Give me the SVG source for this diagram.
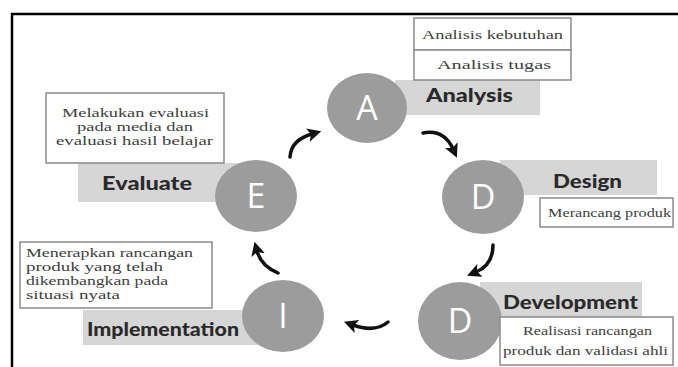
<svg xmlns="http://www.w3.org/2000/svg" width="678" height="367" viewBox="0 0 678 367">
<defs>
<style>
.band{fill:#d6d6d6}
.circ{fill:#9c9c9c}
.letter{font-family:"Open Sans","Liberation Sans",sans-serif;font-size:34px;fill:#ffffff;text-anchor:middle}
.title{font-family:Lato,"Liberation Sans",sans-serif;font-weight:900;font-size:18px;fill:#2a2a2a}
.box{fill:#ffffff;stroke:#8a8a8a;stroke-width:1.5}
.bt{font-family:"Liberation Serif",serif;font-size:13.5px;fill:#404040}
.sm{font-size:12px}
.arr{fill:none;stroke:#111111;stroke-width:3.5;stroke-linecap:round}
</style>
<marker id="ah" markerUnits="userSpaceOnUse" markerWidth="15" markerHeight="15" refX="4" refY="6.5" orient="auto" viewBox="0 0 14 13">
<path d="M0,0 L13,6.5 L0,13 L3,6.5 Z" fill="#111111"/>
</marker>
</defs>
<rect x="0" y="0" width="678" height="367" fill="#ffffff"/>
<path d="M12,367 V14 H678" fill="none" stroke="#000000" stroke-width="2.5"/>

<g id="node-analysis">
<rect class="band" x="395" y="80" width="145" height="35"/>
<ellipse class="circ" cx="367" cy="108" rx="40" ry="35"/>
<text class="letter" x="367" y="120">A</text>
<text class="title" x="426" y="102" textLength="87" lengthAdjust="spacingAndGlyphs">Analysis</text>
<rect class="box" x="414" y="18" width="157" height="32"/>
<rect class="box" x="414" y="50" width="157" height="30"/>
<text class="bt" x="422" y="39" textLength="141" lengthAdjust="spacingAndGlyphs">Analisis kebutuhan</text>
<text class="bt" x="437" y="69" textLength="114" lengthAdjust="spacingAndGlyphs">Analisis tugas</text>
</g>

<g id="node-design">
<rect class="band" x="500" y="160" width="157" height="35"/>
<ellipse class="circ" cx="483" cy="197" rx="41" ry="37"/>
<text class="letter" x="483" y="209">D</text>
<text class="title" x="553" y="188" textLength="69" lengthAdjust="spacingAndGlyphs">Design</text>
<rect class="box" x="540" y="198" width="133" height="29"/>
<text class="bt" x="548" y="217" textLength="123" lengthAdjust="spacingAndGlyphs">Merancang produk</text>
</g>

<g id="node-development">
<rect class="band" x="480" y="282" width="162" height="35"/>
<ellipse class="circ" cx="460" cy="321" rx="42" ry="39"/>
<text class="letter" x="460" y="333">D</text>
<text class="title" x="503" y="309" textLength="135" lengthAdjust="spacingAndGlyphs">Development</text>
<rect class="box" x="500" y="317" width="173" height="48"/>
<text class="bt" x="523" y="335" textLength="129" lengthAdjust="spacingAndGlyphs">Realisasi rancangan</text>
<text class="bt" x="503" y="355" textLength="165" lengthAdjust="spacingAndGlyphs">produk dan validasi ahli</text>
</g>

<g id="node-implementation">
<rect class="band" x="83" y="310" width="180" height="35"/>
<ellipse class="circ" cx="283" cy="316" rx="41" ry="36"/>
<text class="letter" x="283" y="328">I</text>
<text class="title" x="87" y="336" textLength="152" lengthAdjust="spacingAndGlyphs">Implementation</text>
<rect class="box" x="20" y="242" width="192" height="66"/>
<text class="bt sm" x="26" y="257" textLength="167" lengthAdjust="spacingAndGlyphs">Menerapkan rancangan</text>
<text class="bt sm" x="26" y="271" textLength="137" lengthAdjust="spacingAndGlyphs">produk yang telah</text>
<text class="bt sm" x="26" y="285" textLength="142" lengthAdjust="spacingAndGlyphs">dikembangkan pada</text>
<text class="bt sm" x="26" y="299" textLength="94" lengthAdjust="spacingAndGlyphs">situasi nyata</text>
</g>

<g id="node-evaluate">
<rect class="band" x="78" y="163" width="165" height="39"/>
<ellipse class="circ" cx="256" cy="196" rx="41" ry="36"/>
<text class="letter" x="256" y="208">E</text>
<text class="title" x="102" y="190" textLength="90" lengthAdjust="spacingAndGlyphs">Evaluate</text>
<rect class="box" x="46" y="93" width="178" height="70"/>
<text class="bt sm" x="62" y="117" textLength="147" lengthAdjust="spacingAndGlyphs">Melakukan evaluasi</text>
<text class="bt sm" x="77" y="131" textLength="116" lengthAdjust="spacingAndGlyphs">pada media dan</text>
<text class="bt sm" x="56" y="145" textLength="157" lengthAdjust="spacingAndGlyphs">evaluasi hasil belajar</text>
</g>

<g id="connectors">
<path class="arr" d="M423,133 Q444,129 453,149" marker-end="url(#ah)"/>
<path class="arr" d="M493,245 Q493,265 476,272" marker-end="url(#ah)"/>
<path class="arr" d="M388,322 Q375,333 353,325" marker-end="url(#ah)"/>
<path class="arr" d="M278,273 Q261,266 257,251" marker-end="url(#ah)"/>
<path class="arr" d="M290,157 Q291,140 312,134" marker-end="url(#ah)"/>
</g>
</svg>
